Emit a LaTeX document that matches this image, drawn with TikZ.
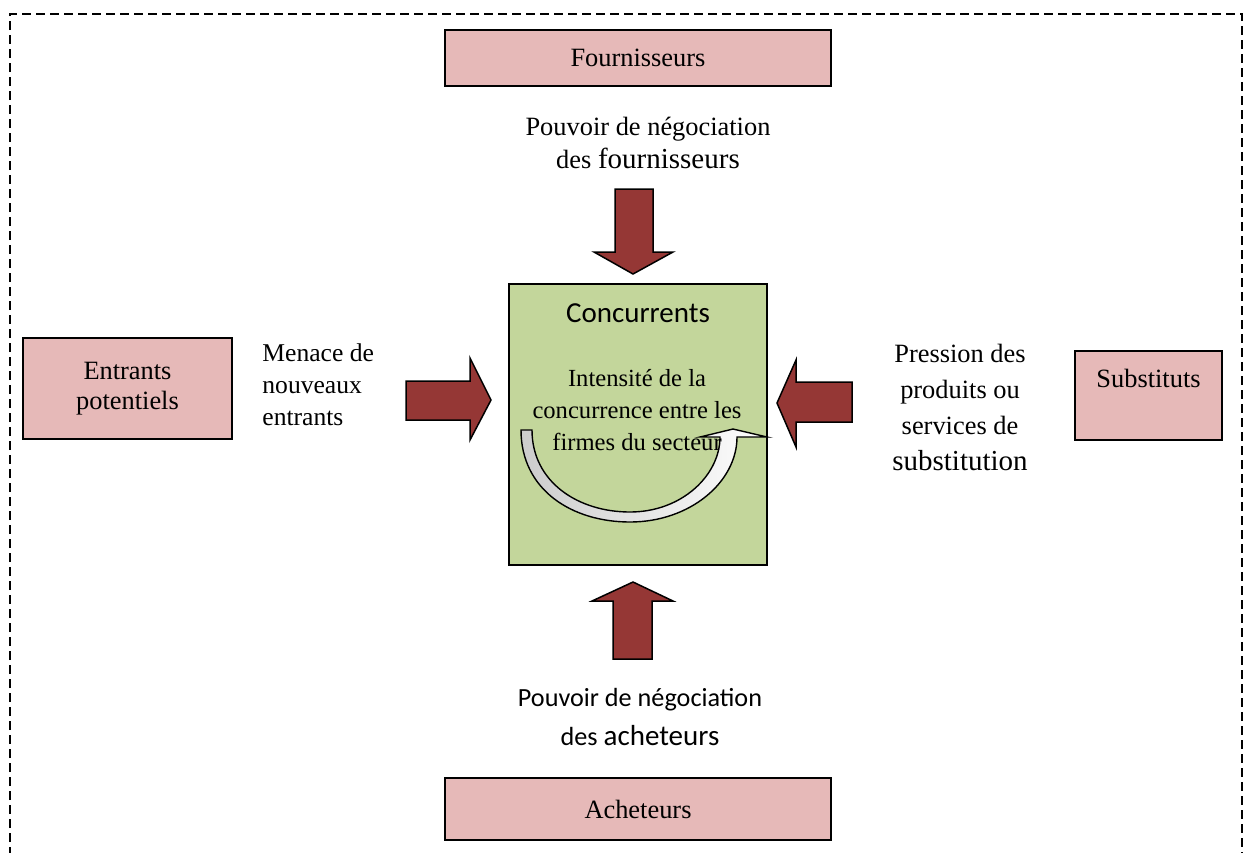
\documentclass[tikz,border=0pt]{standalone}
\usepackage{fontspec}
\setmainfont{Liberation Serif}
\newfontfamily\calibrifont{Carlito}
\definecolor{boxpink}{HTML}{E6B9B8}
\definecolor{boxgreen}{HTML}{C3D69B}
\definecolor{arrowred}{HTML}{953735}
\newcommand\txtbase{\fontsize{13.2}{16.5}\selectfont}
\newcommand\txtbig{\fontsize{14.5}{16.5}\selectfont}
\begin{document}
\begin{tikzpicture}[x=0.5pt,y=-0.5pt,
  forcebox/.style={draw=black, line width=0.9pt, fill=boxpink, inner sep=0pt,
    font=\txtbase, align=center},
  blockarrow/.style={draw=black, line width=0.75pt, fill=arrowred, line join=miter},
  label text/.style={inner sep=0pt, font=\txtbase, align=center}]
\useasboundingbox (0,0) rectangle (1245,852);

% dashed frame, open at the bottom edge of the page
\draw[line width=1pt, dash pattern=on 4.5pt off 2.5pt]
  (10,870) -- (10,14) -- (1242,14) -- (1242,870);

% the five forces
\node[forcebox, minimum width=193pt, minimum height=28pt] (fourn) at (638,58) {Fournisseurs};
\node[forcebox, minimum width=193pt, minimum height=31pt] (achet) at (638,809) {Acheteurs};
\node[forcebox, minimum width=104.5pt, minimum height=50.5pt,
  font=\fontsize{13.2}{15}\selectfont] (entr) at (127.5,388.5) {Entrants\\potentiels};
\node[forcebox, minimum width=73.5pt, minimum height=44.5pt,
  text height=9pt, text depth=17.5pt] (subst) at (1148.5,395.5) {Substituts};
\node[draw=black, line width=0.9pt, fill=boxgreen, inner sep=0pt,
  minimum width=129pt, minimum height=140.5pt] (conc) at (638,424.5) {};

% captions
\node[label text] (capF) at (648,143) {Pouvoir de négociation\\des {\txtbig fournisseurs}};
\node[label text, font=\calibrifont\fontsize{13.1}{19.5}\selectfont] (capA) at (640,717)
  {Pouvoir de négociation\\des {\fontsize{14.5}{19.5}\selectfont acheteurs}};
\node[label text, anchor=west, align=left, font=\fontsize{12.8}{16}\selectfont] (capE) at (262,385)
  {Menace de\\nouveaux\\entrants};
\node[label text, font=\fontsize{13.2}{18}\selectfont] (capS) at (960,407)
  {Pression des\\produits ou\\services de\\{\fontsize{14.5}{18}\selectfont substitution}};

% block arrows pointing at the competitors
\draw[blockarrow] (615,189) -- (653,189) -- (653,252) -- (673,252) -- (633,274)
  -- (594,252) -- (615,252) -- cycle;
\draw[blockarrow] (613,659) -- (652,659) -- (652,601) -- (673,601) -- (633,582)
  -- (592,601) -- (613,601) -- cycle;
\draw[blockarrow] (406,381) -- (470,381) -- (470,358) -- (491,400) -- (470,440)
  -- (470,420) -- (406,420) -- cycle;
\draw[blockarrow] (852,382) -- (796,382) -- (796,360) -- (777,403) -- (796,447)
  -- (796,422) -- (852,422) -- cycle;

% U-turn arrow of the rivalry
\draw[line width=0.7pt, left color=gray!40, right color=white, line join=miter]
  (532,430) -- (521,430) .. controls (521,490) and (572,522) .. (630,522)
  .. controls (690,522) and (737,482) .. (737,437) -- (767,437) -- (733,429)
  -- (700,437) -- (720,437) .. controls (720,475) and (682,512) .. (630,512)
  .. controls (578,512) and (532,482) .. (532,430) -- cycle;

\node[inner sep=0pt, font=\calibrifont\fontsize{14.5}{17}\selectfont] (concT) at (638,313) {Concurrents};
\node[label text, font=\fontsize{12.3}{16}\selectfont] (concI) at (637,410)
  {Intensité de la\\concurrence entre les\\firmes du secteur};
\end{tikzpicture}
\end{document}
